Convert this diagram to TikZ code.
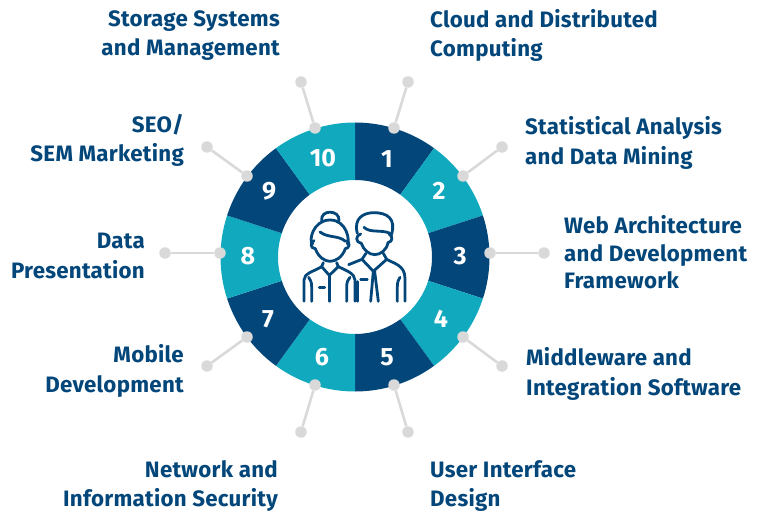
\documentclass[tikz,border=0pt]{standalone}
\usepackage{fontspec}
\usetikzlibrary{calc}
\setmainfont{Fira Sans}[BoldFont={Fira Sans Bold},BoldFeatures={LetterSpace=1.2}]
\newfontfamily\numfont{Fira Sans Bold}
\definecolor{navy}{HTML}{03467A}
\definecolor{teal}{HTML}{11A9BE}
\definecolor{dotgrey}{HTML}{D9D9D9}
\tikzset{
  lab/.style={font=\bfseries\fontsize{22.3}{29.5}\selectfont,text=navy,inner sep=0pt},
  labl/.style={lab,align=left,anchor=west},
  labr/.style={lab,align=right,anchor=east},
  num/.style={font=\numfont\fontsize{25}{25}\selectfont,text=white,inner sep=0pt},
  dotn/.style={circle,fill=dotgrey,minimum size=11.5pt,inner sep=0pt},
  conn/.style={draw=dotgrey,line width=2.6pt},
  icon/.style={draw=navy,line width=2.8pt,line cap=round,line join=round,fill=none},
}
\begin{document}
\begin{tikzpicture}[x=1pt,y=-1pt]
\useasboundingbox (0,0) rectangle (757,513);
\coordinate (c) at (355,257);
% ring
\foreach \i in {1,...,10}{
  \pgfmathsetmacro{\a}{90-36*(\i-1)}
  \pgfmathsetmacro{\b}{90-36*\i}
  \pgfmathtruncatemacro{\odd}{mod(\i,2)}
  \ifnum\odd=1 \def\col{navy}\else\def\col{teal}\fi
  \fill[\col] ($(c)+({134.5*cos(\a)},{-134.5*sin(\a)})$) arc[start angle=-\a,end angle=-\b,radius=134.5]
     -- ($(c)+({77*cos(\b)},{-77*sin(\b)})$) arc[start angle=-\b,end angle=-\a,radius=77] -- cycle;
}
% numbers
\foreach \i/\x/\y in {1/387/159,2/439/191,3/460/256,4/441/319,5/387/357,6/322/357,7/268/319,8/248/256,9/269/191,10/323/158}{
  \node[num] (n\i) at (\x,\y) {\i};
}
% dots and connectors
\foreach \i/\x/\y/\u/\v in {1/394/128/408/82,2/463/176/502/147,3/490/253/544/253,4/463/337/502/366,5/394/385/408/432,6/315/385/301/432,7/247/337/207/366,8/220/253/165/253,9/247/176/207/147,10/315/128/301/82}{
  \node[dotn] (i\i) at (\x,\y) {};
  \node[dotn] (o\i) at (\u,\v) {};
  \draw[conn] (i\i) -- (o\i);
}
% labels
\node[labr] (t10) at (280,35.5) {Storage Systems\\and Management};
\node[labl] (t1) at (430,35.5) {Cloud and Distributed\\Computing};
\node[labl] (t2) at (525,143) {Statistical Analysis\\and Data Mining};
\node[labl,font=\bfseries\fontsize{22.3}{27.5}\selectfont] (t3) at (564,252.5) {Web Architecture\\and Development\\Framework};
\node[labl] (t4) at (526,374) {Middleware and\\Integration Software};
\node[labl] (t5) at (430,486) {User Interface\\Design};
\node[labr] (t6) at (278,486) {Network and\\Information Security};
\node[labr] (t7) at (184,371) {Mobile\\Development};
\node[labr] (t8) at (145,256) {Data\\Presentation};
\node[labr] (t9) at (184,140.5) {SEO/\\SEM Marketing};
% icon, in units of the 3x crop at (270,170)
\begin{scope}[shift={(270,170)},x=0.3333pt,y=-0.3333pt,icon]
 % woman
 \draw (155,152) .. controls (150,118) and (210,118) .. (207,152);
 \draw (128,222) .. controls (115,215) and (128,150) .. (180,150) .. controls (232,150) and (240,215) .. (232,222);
 \draw (150,186) .. controls (175,205) and (205,195) .. (226,214);
 \draw (132,212) .. controls (118,218) and (122,236) .. (136,236) .. controls (145,262) and (165,274) .. (180,274) .. controls (197,274) and (217,262) .. (226,236) .. controls (238,236) and (242,218) .. (230,212);
 \draw (102,394) -- (102,330) .. controls (102,310) and (130,305) .. (155,290) -- (178,316) -- (205,290) .. controls (225,300) and (255,310) .. (255,330) -- (255,394);
 \draw (160,278) -- (155,290);
 \draw (200,278) -- (205,290);
 \draw (178,316) -- (178,394);
 \draw (125,394) -- (125,350) .. controls (125,335) and (120,328) .. (116,322);
 \draw (230,394) -- (230,350) .. controls (230,335) and (235,328) .. (240,322);
 \draw (148,352) -- (164,352);
 % man
 \draw (262,190) .. controls (250,145) and (280,128) .. (312,128) .. controls (350,128) and (380,145) .. (364,195);
 \draw (282,172) .. controls (300,190) and (335,178) .. (360,190);
 \draw (272,192) .. controls (256,196) and (256,218) .. (274,220) .. controls (280,240) and (298,254) .. (314,254) .. controls (332,254) and (350,240) .. (354,218) .. controls (368,216) and (370,198) .. (357,192);
 \draw (236,284) -- (276,268) -- (310,304) -- (350,268) .. controls (370,280) and (405,285) .. (405,325) -- (405,394);
 \draw (288,250) -- (276,268);
 \draw (340,250) -- (350,268);
 \draw (310,304) -- (302,394);
 \draw (314,304) -- (325,394);
 \draw (262,394) -- (262,335);
 \draw (382,394) -- (382,350) .. controls (382,335) and (386,328) .. (390,322);
 \draw (272,328) -- (292,328);
\end{scope}
\end{tikzpicture}
\end{document}
